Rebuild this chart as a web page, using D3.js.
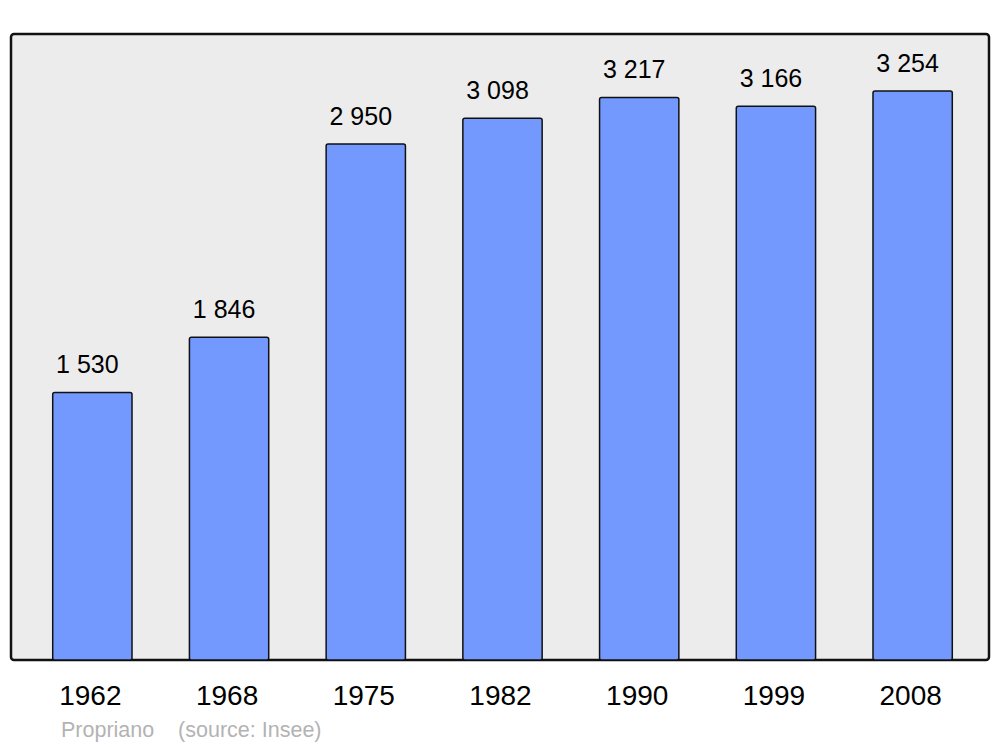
<!DOCTYPE html>
<html><head><meta charset="utf-8">
<script src="https://cdn.jsdelivr.net/npm/d3@7"></script>
<style>body{margin:0;background:#fff}svg{display:block;font-family:"Liberation Sans",Arial,sans-serif}</style>
</head><body>
<svg id="c" width="1000" height="747"></svg>
<script>
const years = ["1962","1968","1975","1982","1990","1999","2008"];
const population = [1530,1846,2950,3098,3217,3166,3254];
const caption = "Propriano    (source: Insee)";
const fmt = v => d3.format(",")(v).replace(/,/g, " ");

const svg = d3.select("#c");
const frame = {x0: 11, x1: 989, y0: 34, y1: 660};

svg.append("rect").attr("x", frame.x0).attr("y", frame.y0)
  .attr("width", frame.x1 - frame.x0).attr("height", frame.y1 - frame.y0)
  .attr("rx", 3).attr("fill", "#ececec").attr("stroke", "#111").attr("stroke-width", 2.5);

const x = d3.scaleBand().domain(years).range([24, 981]).paddingInner(0.42).paddingOuter(0.21);
const y = d3.scaleLinear().domain([0, 3254 * 1.1]).range([frame.y1, frame.y0]);

svg.append("g").selectAll("rect").data(population).join("rect")
  .attr("x", (d, i) => x(years[i]))
  .attr("y", d => y(d))
  .attr("width", x.bandwidth())
  .attr("height", d => frame.y1 - y(d))
  .attr("rx", 2)
  .attr("fill", "#7399ff").attr("stroke", "#111").attr("stroke-width", 1.5);

svg.append("g").selectAll("text").data(population).join("text")
  .attr("x", (d, i) => x(years[i]) + x.bandwidth() / 2 - 5)
  .attr("y", d => y(d) - 19)
  .attr("text-anchor", "middle").attr("font-size", 25).attr("fill", "#000")
  .text(d => fmt(d));

const axis = d3.axisBottom(x).tickSize(0).tickPadding(0);
const g = svg.append("g").attr("transform", `translate(0,${frame.y1})`).call(axis);
g.select(".domain").remove();
g.selectAll("text").attr("font-size", 28).attr("fill", "#000")
  .attr("font-family", '"Liberation Sans",Arial,sans-serif')
  .attr("dy", null).attr("y", 45).attr("dx", -2);

svg.append("text").attr("x", 61).attr("y", 737).attr("font-size", 21.5)
  .attr("fill", "#b3b3b3").style("white-space", "pre").text(caption);
</script>
</body></html>
